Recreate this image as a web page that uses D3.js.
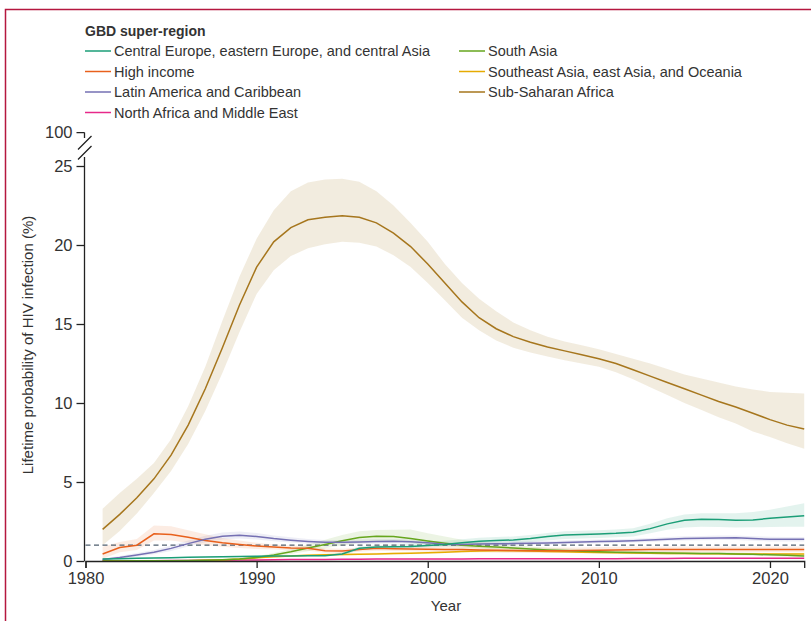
<!DOCTYPE html>
<html><head><meta charset="utf-8">
<script src="https://cdn.jsdelivr.net/npm/d3@7"></script>
<style>
html,body{margin:0;padding:0;background:#fff;}
svg{display:block;}
text{font-family:"Liberation Sans",Arial,sans-serif;fill:#333;}
</style></head>
<body>
<svg id="c" width="811" height="621"></svg>
<script>
const years = d3.range(1981, 2023);
const xTicks = [1980, 1990, 2000, 2010, 2020];
const yTicks = [0, 5, 10, 15, 20, 25];
const yBreakLabel = "100";
const refLine = 1;

const names = ["Central Europe, eastern Europe, and central Asia","High income","Latin America and Caribbean","North Africa and Middle East","South Asia","Southeast Asia, east Asia, and Oceania","Sub-Saharan Africa"];
const colors = ["#1b9e77","#e8601c","#7570b3","#e7298a","#66a61e","#e6ab02","#a6761d"];

// Central Europe, eastern Europe, and central Asia
const ceMean = [0.12,0.15,0.17,0.19,0.21,0.23,0.25,0.27,0.29,0.30,0.31,0.32,0.33,0.34,0.45,0.80,0.88,0.90,0.92,0.98,1.05,1.15,1.25,1.30,1.33,1.42,1.55,1.65,1.68,1.71,1.75,1.82,2.05,2.35,2.58,2.65,2.62,2.58,2.60,2.70,2.78,2.87];
const ceLow  = [0.09,0.12,0.14,0.16,0.18,0.20,0.22,0.24,0.26,0.27,0.28,0.29,0.30,0.31,0.37,0.68,0.76,0.78,0.80,0.85,0.90,0.98,1.05,1.10,1.12,1.20,1.30,1.40,1.42,1.45,1.50,1.55,1.75,1.98,2.12,2.17,2.15,2.12,2.13,2.15,2.16,2.17];
const ceHigh = [0.15,0.18,0.20,0.22,0.24,0.26,0.28,0.30,0.32,0.33,0.34,0.35,0.36,0.37,0.55,0.92,1.00,1.05,1.10,1.20,1.28,1.38,1.47,1.52,1.55,1.65,1.78,1.88,1.92,1.95,2.00,2.08,2.35,2.70,2.95,3.02,3.02,3.02,3.10,3.25,3.45,3.65];
// High income
const hiMean = [0.44,0.85,1.00,1.72,1.68,1.50,1.30,1.15,1.05,0.95,0.88,0.82,0.80,0.65,0.63,0.72,0.80,0.78,0.76,0.75,0.73,0.72,0.70,0.68,0.66,0.65,0.65,0.65,0.66,0.68,0.70,0.71,0.72,0.72,0.72,0.72,0.72,0.72,0.72,0.72,0.72,0.72];
const hiLow  = [0.15,0.55,0.70,1.30,1.30,1.15,1.00,0.90,0.82,0.76,0.72,0.67,0.65,0.52,0.50,0.58,0.65,0.63,0.61,0.60,0.58,0.57,0.55,0.53,0.51,0.50,0.50,0.50,0.51,0.53,0.55,0.56,0.57,0.57,0.57,0.57,0.57,0.57,0.57,0.57,0.57,0.57];
const hiHigh = [0.90,1.20,1.40,2.25,2.20,1.95,1.70,1.45,1.30,1.15,1.05,0.98,0.95,0.80,0.78,0.86,0.95,0.95,0.94,0.93,0.92,0.91,0.90,0.88,0.86,0.85,0.85,0.85,0.86,0.88,0.90,0.91,0.92,0.92,0.92,0.92,0.92,0.92,0.92,0.92,0.92,0.92];
// Latin America and Caribbean
const laMean = [0.10,0.22,0.38,0.55,0.80,1.10,1.38,1.57,1.63,1.55,1.42,1.32,1.24,1.18,1.18,1.21,1.24,1.25,1.22,1.15,1.06,1.05,1.07,1.09,1.10,1.12,1.14,1.17,1.20,1.23,1.25,1.28,1.33,1.38,1.42,1.44,1.46,1.47,1.42,1.38,1.37,1.37];
const laLow  = [0.05,0.14,0.27,0.42,0.64,0.92,1.18,1.36,1.42,1.36,1.25,1.17,1.10,1.05,1.05,1.08,1.11,1.12,1.10,1.03,0.95,0.94,0.96,0.98,0.99,1.01,1.03,1.06,1.09,1.12,1.14,1.17,1.21,1.26,1.29,1.31,1.33,1.33,1.28,1.24,1.23,1.23];
const laHigh = [0.16,0.31,0.50,0.70,0.98,1.30,1.60,1.80,1.86,1.77,1.62,1.50,1.40,1.33,1.33,1.36,1.39,1.40,1.36,1.29,1.19,1.18,1.20,1.22,1.23,1.25,1.27,1.30,1.33,1.36,1.38,1.41,1.46,1.52,1.57,1.59,1.61,1.62,1.57,1.53,1.52,1.52];
// North Africa and Middle East
const naMean = [0.01,0.01,0.02,0.02,0.03,0.03,0.04,0.05,0.06,0.07,0.08,0.09,0.10,0.10,0.11,0.11,0.12,0.12,0.12,0.13,0.13,0.13,0.14,0.14,0.14,0.14,0.15,0.15,0.15,0.15,0.15,0.16,0.16,0.16,0.17,0.17,0.17,0.18,0.18,0.18,0.18,0.18];
const naLow  = naMean.map(v => Math.max(0, v - 0.03));
const naHigh = naMean.map(v => v + 0.03);
// South Asia
const saMean = [0.00,0.00,0.01,0.01,0.02,0.03,0.05,0.08,0.13,0.22,0.38,0.58,0.82,1.05,1.28,1.48,1.57,1.55,1.42,1.26,1.12,1.00,0.94,0.88,0.82,0.76,0.70,0.66,0.62,0.58,0.56,0.54,0.52,0.50,0.49,0.48,0.47,0.45,0.42,0.39,0.36,0.32];
const saLow  = [0.00,0.00,0.00,0.00,0.01,0.02,0.03,0.05,0.09,0.16,0.28,0.44,0.62,0.80,0.98,1.15,1.22,1.22,1.15,1.05,0.95,0.86,0.80,0.75,0.70,0.65,0.60,0.56,0.53,0.49,0.47,0.45,0.43,0.41,0.40,0.39,0.38,0.36,0.33,0.30,0.27,0.23];
const saHigh = [0.01,0.01,0.02,0.02,0.03,0.05,0.08,0.12,0.19,0.30,0.50,0.75,1.05,1.35,1.65,1.88,1.96,1.98,2.00,1.75,1.55,1.35,1.20,1.10,1.00,0.92,0.84,0.79,0.75,0.70,0.67,0.65,0.63,0.61,0.60,0.59,0.58,0.56,0.53,0.50,0.47,0.44];
// Southeast Asia, east Asia, and Oceania
const seMean = [0.00,0.00,0.00,0.01,0.01,0.02,0.04,0.07,0.12,0.20,0.27,0.32,0.36,0.39,0.41,0.43,0.45,0.47,0.49,0.52,0.56,0.60,0.63,0.65,0.65,0.63,0.60,0.58,0.56,0.54,0.52,0.50,0.49,0.48,0.47,0.46,0.46,0.45,0.45,0.45,0.44,0.44];
const seLow  = seMean.map(v => Math.max(0, v - 0.07));
const seHigh = seMean.map(v => v + 0.08);
// Sub-Saharan Africa
const ssMean = [2.00,2.95,4.00,5.20,6.70,8.60,10.90,13.50,16.20,18.60,20.20,21.10,21.60,21.75,21.85,21.75,21.40,20.75,19.90,18.80,17.60,16.40,15.40,14.70,14.20,13.85,13.55,13.30,13.05,12.80,12.50,12.10,11.70,11.30,10.90,10.50,10.10,9.75,9.35,8.95,8.60,8.35];
const ssLow  = [1.00,1.90,3.00,4.30,5.70,7.40,9.50,11.90,14.50,16.90,18.40,19.30,19.80,20.05,20.20,20.15,19.90,19.35,18.60,17.60,16.50,15.40,14.60,13.95,13.50,13.20,12.95,12.70,12.50,12.30,11.95,11.50,11.00,10.50,10.00,9.55,9.10,8.70,8.20,7.85,7.45,7.10];
const ssHigh = [3.30,4.30,5.20,6.20,7.70,9.80,12.30,15.20,18.00,20.40,22.20,23.40,23.95,24.15,24.20,24.00,23.40,22.50,21.40,20.20,18.80,17.60,16.60,15.80,15.10,14.60,14.20,13.90,13.65,13.40,13.10,12.80,12.50,12.15,11.80,11.55,11.30,11.05,10.85,10.70,10.65,10.60];

const means = [ceMean, hiMean, laMean, naMean, saMean, seMean, ssMean];
const lows  = [ceLow, hiLow, laLow, naLow, saLow, seLow, ssLow];
const highs = [ceHigh, hiHigh, laHigh, naHigh, saHigh, seHigh, ssHigh];

const svg = d3.select("#c");
const x = d3.scaleLinear().domain([1980, 2022]).range([85.5, 804.2]);
const y = d3.scaleLinear().domain([0, 25]).range([561, 166]);

// border
svg.append("path").attr("d", "M5.5,621 V9.5 H811").attr("fill","none").attr("stroke","#b5173f").attr("stroke-width",1.5);

// bands
const area = d3.area().x(d => x(d.yr)).y0(d => y(d.lo)).y1(d => y(d.hi)).curve(d3.curveLinear);
const line = d3.line().x(d => x(d.yr)).y(d => y(d.v));
const seriesData = names.map((n, i) => years.map((yr, j) => ({yr, v: means[i][j], lo: lows[i][j], hi: highs[i][j]})));

const bandOrder = [6, 0, 1, 2, 4, 5, 3];
bandOrder.forEach(i => {
  svg.append("path").datum(seriesData[i]).attr("d", area)
    .attr("fill", colors[i]).attr("fill-opacity", i === 6 ? 0.14 : 0.12).attr("stroke","none");
});

// reference line
svg.append("line").attr("x1", x(1980)).attr("x2", x(2022)).attr("y1", y(refLine)).attr("y2", y(refLine))
  .attr("stroke", "#4f5f6f").attr("stroke-width", 1.2).attr("stroke-dasharray", "5,3.5");

// lines
const lineOrder = [3, 5, 4, 1, 2, 0, 6];
lineOrder.forEach(i => {
  svg.append("path").datum(seriesData[i]).attr("d", line)
    .attr("fill","none").attr("stroke", colors[i]).attr("stroke-width", 1.5);
});

// axes
const gx = svg.append("g").attr("transform", `translate(0,${y(0)})`)
  .call(d3.axisBottom(x).tickValues(xTicks).tickFormat(d3.format("d")).tickSizeOuter(0).tickSize(7).tickPadding(4));
const gy = svg.append("g").attr("transform", `translate(${x(1980) - 1},0)`)
  .call(d3.axisLeft(y).tickValues(yTicks).tickSizeOuter(0).tickSize(8).tickPadding(4));
[gx, gy].forEach(g => {
  g.selectAll("path.domain").attr("stroke", "#222").attr("stroke-width", 1.3);
  g.selectAll(".tick line").attr("stroke", "#222").attr("stroke-width", 1.3);
  g.selectAll(".tick text").attr("font-size", 16.5).attr("fill", "#333").attr("font-family", '"Liberation Sans",Arial,sans-serif');
});
gy.select("path.domain").remove();

// y axis with break
const ax = x(1980) - 1;
const yTop = y(25);
const axisPath = d3.path();
axisPath.moveTo(ax, y(0)); axisPath.lineTo(ax, yTop - 9);
axisPath.moveTo(ax, yTop - 28); axisPath.lineTo(ax, yTop - 33.5);
axisPath.moveTo(ax - 8, yTop - 33.3); axisPath.lineTo(ax, yTop - 33.3);
svg.append("path").attr("d", axisPath.toString()).attr("stroke", "#222").attr("stroke-width", 1.3).attr("fill","none");
const brk = d3.path();
brk.moveTo(ax - 6.5, yTop - 16.5); brk.lineTo(ax + 7, yTop - 30);
brk.moveTo(ax - 6.5, yTop - 6.5); brk.lineTo(ax + 7, yTop - 20);
svg.append("path").attr("d", brk.toString()).attr("stroke", "#222").attr("stroke-width", 1.3).attr("fill","none");
svg.append("text").attr("x", ax - 12).attr("y", yTop - 33.3).attr("dy", "0.32em").attr("text-anchor","end")
  .attr("font-size", 16.5).text(yBreakLabel);

// axis titles
svg.append("text").attr("x", 446).attr("y", 611).attr("text-anchor","middle").attr("font-size", 15).text("Year");
svg.append("text").attr("transform", "translate(33,345) rotate(-90)").attr("text-anchor","middle").attr("font-size", 15)
  .text("Lifetime probability of HIV infection (%)");

// legend
svg.append("text").attr("x", 85).attr("y", 36).attr("font-size", 14).attr("font-weight","bold").attr("fill","#333").text("GBD super-region");
const legendPos = [[85,51],[85,71.5],[85,92],[85,112.5],[459,51],[459,71.5],[459,92]];
names.forEach((n, i) => {
  const [lx, ly] = legendPos[i];
  svg.append("line").attr("x1", lx).attr("x2", lx + 26).attr("y1", ly).attr("y2", ly).attr("stroke", colors[i]).attr("stroke-width", 1.5);
  svg.append("text").attr("x", lx + 29).attr("y", ly).attr("dy","0.35em").attr("font-size", 14.5).text(n);
});
</script>
</body></html>
